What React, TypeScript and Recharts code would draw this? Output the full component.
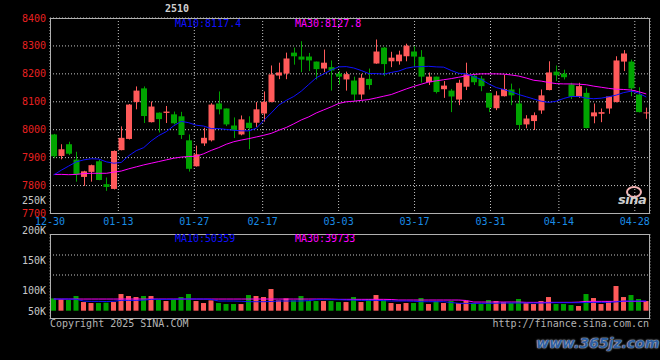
import React from "react";
import { ComposedChart, Bar, Line, XAxis, YAxis, CartesianGrid } from "recharts";

// trading days shown, 12-30 .. 04-30
const dates = [
  "12-30", "12-31", "01-02", "01-03", "01-06", "01-07", "01-08", "01-09", "01-10", "01-13",
  "01-14", "01-15", "01-16", "01-17", "01-20", "01-21", "01-22", "01-23", "01-24", "01-27",
  "02-05", "02-06", "02-07", "02-10", "02-11", "02-12", "02-13", "02-14", "02-17", "02-18",
  "02-19", "02-20", "02-21", "02-24", "02-25", "02-26", "02-27", "02-28", "03-03", "03-04",
  "03-05", "03-06", "03-07", "03-10", "03-11", "03-12", "03-13", "03-14", "03-17", "03-18",
  "03-19", "03-20", "03-21", "03-24", "03-25", "03-26", "03-27", "03-28", "03-31", "04-01",
  "04-02", "04-03", "04-07", "04-08", "04-09", "04-10", "04-11", "04-14", "04-15", "04-16",
  "04-17", "04-18", "04-21", "04-22", "04-23", "04-24", "04-25", "04-28", "04-29", "04-30",
];

const open = [
  7983, 7906, 7948, 7893, 7831, 7849, 7887, 7805, 7788, 7927,
  7967, 8099, 8148, 8027, 8061, 8060, 8055, 8048, 7962, 7869,
  7951, 7962, 8094, 8076, 8015, 7983, 8025, 8025, 8058, 8099,
  8194, 8201, 8276, 8262, 8262, 8244, 8219, 8224, 8201, 8180,
  8176, 8126, 8182, 8237, 8294, 8245, 8245, 8263, 8280, 8261,
  8170, 8190, 8145, 8140, 8108, 8154, 8193, 8183, 8132, 8077,
  8120, 8144, 8094, 8019, 8031, 8069, 8142, 8208, 8201, 8162,
  8119, 8132, 8048, 8057, 8076, 8099, 8244, 8244, 8126, 8061,
];
const high = [
  7985, 7948, 7957, 7921, 7853, 7875, 7893, 7829, 7926, 8012,
  8092, 8155, 8155, 8101, 8062, 8085, 8065, 8064, 7983, 7943,
  8007, 8095, 8137, 8076, 8044, 8051, 8048, 8099, 8137, 8230,
  8240, 8276, 8294, 8317, 8275, 8244, 8287, 8248, 8210, 8208,
  8190, 8200, 8219, 8323, 8296, 8279, 8283, 8308, 8299, 8285,
  8205, 8190, 8174, 8146, 8179, 8240, 8200, 8192, 8132, 8138,
  8196, 8165, 8148, 8052, 8062, 8144, 8245, 8230, 8215, 8168,
  8168, 8150, 8094, 8076, 8120, 8263, 8285, 8251, 8152, 8079,
];
const low = [
  7898, 7894, 7909, 7814, 7799, 7814, 7819, 7781, 7786, 7926,
  7965, 8073, 8024, 8026, 7990, 8024, 8019, 7967, 7850, 7868,
  7942, 7958, 8055, 8013, 7970, 7980, 7930, 8010, 8029, 8098,
  8181, 8181, 8233, 8206, 8210, 8180, 8206, 8140, 8162, 8140,
  8102, 8108, 8144, 8236, 8192, 8224, 8233, 8245, 8226, 8169,
  8160, 8130, 8114, 8063, 8088, 8142, 8160, 8138, 8063, 8070,
  8119, 8088, 8000, 8005, 7999, 8057, 8141, 8174, 8180, 8110,
  8114, 8005, 8023, 8027, 8057, 8098, 8210, 8120, 8062, 8039,
];
const close = [
  7905, 7930, 7914, 7840, 7851, 7873, 7820, 7795, 7924, 7971,
  8090, 8140, 8049, 8083, 8038, 8065, 8023, 7981, 7860, 7912,
  7971, 8090, 8073, 8019, 7998, 8037, 8006, 8073, 8100, 8198,
  8205, 8255, 8263, 8251, 8248, 8217, 8240, 8212, 8190, 8199,
  8126, 8186, 8160, 8280, 8235, 8258, 8269, 8301, 8262, 8190,
  8190, 8135, 8158, 8119, 8168, 8198, 8170, 8156, 8079, 8123,
  8146, 8123, 8017, 8040, 8052, 8123, 8205, 8195, 8188, 8118,
  8156, 8006, 8062, 8063, 8119, 8248, 8273, 8148, 8063, 8062,
];

// moving averages as drawn on the chart
const ma10 = [
  7838, 7855, 7870, 7885, 7892, 7896, 7895, 7885, 7880, 7883,
  7907, 7925, 7936, 7960, 7979, 7993, 8014, 8030, 8025, 8016,
  8013, 8004, 8004, 8001, 7998, 7996, 7996, 8005, 8033, 8060,
  8088, 8105, 8119, 8138, 8162, 8186, 8200, 8214, 8225, 8226,
  8221, 8212, 8201, 8201, 8199, 8205, 8210, 8220, 8225, 8226,
  8227, 8225, 8224, 8212, 8202, 8200, 8190, 8180, 8164, 8151,
  8144, 8136, 8126, 8118, 8110, 8102, 8098, 8102, 8112, 8119,
  8119, 8113, 8111, 8113, 8118, 8124, 8133, 8138, 8131, 8117,
];
const ma30 = [
  7840, 7840, 7839, 7840, 7843, 7844, 7844, 7844, 7848, 7852,
  7860, 7867, 7874, 7880, 7886, 7892, 7898, 7902, 7904, 7905,
  7914, 7926, 7936, 7948, 7957, 7963, 7968, 7974, 7980, 7987,
  7998, 8008, 8021, 8035, 8046, 8060, 8071, 8082, 8094, 8100,
  8102, 8105, 8108, 8114, 8120, 8126, 8136, 8146, 8155, 8163,
  8171, 8175, 8179, 8183, 8188, 8193, 8198, 8200, 8200, 8200,
  8199, 8196, 8192, 8185, 8177, 8174, 8169, 8165, 8164, 8164,
  8163, 8161, 8156, 8152, 8148, 8145, 8144, 8142, 8136, 8128,
];

const volume = [
  49600, 45600, 42900, 59000, 34800, 30800, 30800, 32200, 34800, 67000,
  59000, 54900, 59000, 59000, 45600, 38900, 45600, 54900, 67000, 38900,
  30800, 41500, 30800, 26800, 26800, 26800, 63000, 59000, 54900, 87100,
  41500, 49600, 41500, 59000, 38900, 38900, 38900, 38900, 34800, 34800,
  54900, 34800, 46900, 63000, 42900, 30800, 26800, 30800, 30800, 50900,
  26800, 38900, 30800, 38900, 30800, 38900, 30800, 26800, 42900, 38900,
  34800, 30800, 46900, 30800, 26800, 38900, 54900, 26800, 26800, 22800,
  18800, 67000, 50900, 26800, 38900, 99200, 54900, 63000, 46900, 38900,
];
const volMa10 = [
  46900, 46900, 46500, 46000, 38500, 37500, 37500, 37000, 38000, 41500,
  41500, 41500, 42500, 45600, 45600, 45600, 46000, 46900, 46900, 46900,
  46900, 45000, 38900, 38900, 38900, 38000, 36200, 36200, 36200, 37000,
  38900, 38900, 38900, 38900, 40500, 44200, 44200, 44200, 44200, 43000,
  42500, 41500, 41500, 41500, 40500, 38900, 38900, 38900, 38000, 36200,
  36200, 36200, 36200, 33000, 29500, 29500, 29500, 29500, 29500, 30000,
  30800, 30800, 30800, 30800, 30800, 30800, 31500, 32200, 32200, 32200,
  32200, 32800, 33500, 33500, 33500, 35500, 38900, 38900, 38900, 38900,
];
const volMa30 = [
  46900, 46900, 46900, 46900, 46900, 46900, 46900, 46900, 46900, 46900,
  46900, 46900, 46900, 46900, 46900, 46900, 46900, 46900, 46900, 46900,
  46900, 46900, 46900, 46900, 46900, 46900, 46900, 46900, 46900, 46900,
  46900, 46900, 46900, 46900, 46900, 46900, 46900, 46500, 45600, 45600,
  45600, 45600, 45600, 45600, 45600, 45000, 42900, 42900, 42900, 42900,
  42900, 42900, 42900, 42900, 42900, 41000, 34800, 34800, 34800, 34800,
  34800, 34800, 34800, 33500, 33500, 33500, 33500, 33500, 33500, 33500,
  34500, 37500, 37500, 37500, 37500, 37500, 37500, 37500, 37500, 37500,
];

const dateTicks = ["12-30", "01-13", "01-27", "02-17", "03-03", "03-17", "03-31", "04-14", "04-28"];
const priceTicks = [7700, 7800, 7900, 8000, 8100, 8200, 8300, 8400];
const volTicks = [250000, 200000, 150000, 100000, 50000];

const symbol = "2510";
const priceMaText = ["MA10:8117.4", "MA30:8127.8"];
const volMaText = ["MA10:50359", "MA30:39733"];

const RED = "#ff5a5a";
const GREEN = "#00a400";
const BLUE = "#1010ff";
const MAGENTA = "#ff00ff";
const GRID = "#c4c4c4";
const MONO = "'DejaVu Sans Mono', monospace";

const rows = dates.map((d, i) => ({
  date: d,
  idx: i,
  range: [low[i], high[i]],
  open: open[i],
  close: close[i],
  ma10: ma10[i],
  ma30: ma30[i],
  vol: volume[i],
  vma10: volMa10[i],
  vma30: volMa30[i],
}));

const tickIdx = dateTicks.map((t) => dates.indexOf(t));

function Candle(props: any) {
  const { x, y, width, height, payload } = props;
  const top = Math.min(y, y + height);
  const h = Math.abs(height);
  const [lo, hi] = payload.range;
  const k = hi > lo ? h / (hi - lo) : 0;
  const bTop = top + (hi - Math.max(payload.open, payload.close)) * k;
  const bBot = top + (hi - Math.min(payload.open, payload.close)) * k;
  const color = payload.close >= payload.open ? RED : GREEN;
  const cx = Math.floor(x + width / 2) + 0.5;
  return (
    <g>
      <line x1={cx} x2={cx} y1={top} y2={top + h} stroke={color} strokeWidth={1} />
      <rect x={x} y={bTop} width={width} height={Math.max(1, bBot - bTop)} fill={color} />
    </g>
  );
}

function VolBar(props: any) {
  const { x, y, width, height, payload } = props;
  const color = payload.close >= payload.open ? RED : GREEN;
  return <rect x={x} y={Math.min(y, y + height)} width={width} height={Math.abs(height)} fill={color} />;
}

// the bottom volume label sits just above the panel edge
function VolTick(props: any) {
  const { x, y, payload } = props;
  return (
    <text x={x} y={Math.min(y, 311)} dy={3.5} textAnchor="end" fill="#c8c8c8" fontSize={10} fontFamily={MONO}>
      {payload.value / 1000 + "K"}
    </text>
  );
}

const txt = (extra: React.CSSProperties): React.CSSProperties => ({
  position: "absolute",
  fontFamily: MONO,
  fontSize: 10,
  lineHeight: "10px",
  whiteSpace: "nowrap",
  ...extra,
});

export default function App() {
  return (
    <div style={{ position: "absolute", left: 0, top: 0, width: 660, height: 360, background: "#000", overflow: "hidden" }}>
      <div style={{ position: "absolute", left: 0, top: 0 }}>
        <ComposedChart width={660} height={240} data={rows} margin={{ top: 18, right: 10, left: 0, bottom: 6.5 }}>
          <XAxis xAxisId="cat" dataKey="date" hide height={0} />
          <XAxis
            xAxisId="dates"
            type="number"
            dataKey="idx"
            domain={[0, 79]}
            ticks={tickIdx}
            interval={0}
            tickFormatter={(v: number) => dates[v]}
            height={20}
            axisLine={false}
            tickLine={false}
            tickSize={0}
            tickMargin={4}
            tick={{ fill: "#1a8ce6", fontSize: 10, fontFamily: MONO }}
          />
          <YAxis
            yAxisId="price"
            domain={[7700, 8400]}
            ticks={priceTicks}
            interval={0}
            allowDataOverflow
            width={50}
            axisLine={false}
            tickLine={false}
            tickSize={0}
            tickMargin={4}
            tick={{ fill: "#e82020", fontSize: 10, fontFamily: MONO }}
          />
          <CartesianGrid xAxisId="dates" yAxisId="price" stroke={GRID} strokeDasharray="1 2" />
          <Bar xAxisId="cat" yAxisId="price" dataKey="range" barSize={6} shape={Candle} isAnimationActive={false} />
          <Line xAxisId="cat" yAxisId="price" dataKey="ma30" stroke={MAGENTA} strokeWidth={1} dot={false} isAnimationActive={false} />
          <Line xAxisId="cat" yAxisId="price" dataKey="ma10" stroke={BLUE} strokeWidth={1} dot={false} isAnimationActive={false} />
        </ComposedChart>
      </div>

      <div style={{ position: "absolute", left: 0, top: 0 }}>
        <ComposedChart width={660} height={360} data={rows} margin={{ top: 234.3, right: 10, left: 0, bottom: 39.3 }}>
          <XAxis xAxisId="cat" dataKey="date" hide height={0} />
          <XAxis
            xAxisId="dates"
            type="number"
            dataKey="idx"
            domain={[0, 79]}
            ticks={tickIdx}
            interval={0}
            height={0}
            tick={false}
            axisLine={false}
            tickLine={false}
          />
          <YAxis
            yAxisId="lbl"
            type="number"
            domain={[50000, 193165]}
            allowDataOverflow
            ticks={volTicks}
            interval={0}
            width={50}
            axisLine={false}
            tickLine={false}
            tickSize={0}
            tickMargin={4}
            tick={VolTick}
          />
          <YAxis yAxisId="vol" hide domain={[-40200, 307100]} allowDataOverflow />
          <CartesianGrid xAxisId="dates" yAxisId="vol" stroke={GRID} strokeDasharray="1 2" horizontalPoints={[255, 275]} />
          <Bar xAxisId="cat" yAxisId="vol" dataKey="vol" barSize={5} shape={VolBar} isAnimationActive={false} />
          <Line xAxisId="cat" yAxisId="vol" dataKey="vma30" stroke={MAGENTA} strokeWidth={1} dot={false} isAnimationActive={false} />
          <Line xAxisId="cat" yAxisId="vol" dataKey="vma10" stroke={BLUE} strokeWidth={1} dot={false} isAnimationActive={false} />
        </ComposedChart>
      </div>

      {/* panel frames */}
      <div style={{ position: "absolute", left: 50, top: 18, width: 600, height: 196, border: "1px solid #b0b0b0", boxSizing: "border-box" }} />
      <div style={{ position: "absolute", left: 50, top: 234, width: 600, height: 85, border: "1px solid #b0b0b0", boxSizing: "border-box" }} />

      <div style={txt({ left: 165, top: 4, color: "#d0d0d0", fontWeight: "bold" })}>{symbol}</div>
      <div style={txt({ left: 175, top: 19, color: BLUE })}>{priceMaText[0]}</div>
      <div style={txt({ left: 295, top: 19, color: MAGENTA })}>{priceMaText[1]}</div>
      <div style={txt({ left: 175, top: 234, color: BLUE })}>{volMaText[0]}</div>
      <div style={txt({ left: 295, top: 234, color: MAGENTA })}>{volMaText[1]}</div>
      <div style={txt({ left: 50, top: 319, color: "#b4b4b4" })}>Copyright 2025 SINA.COM</div>
      <div style={txt({ right: 11, top: 319, color: "#b4b4b4" })}>http://finance.sina.com.cn</div>

      {/* sina logo */}
      <div style={{ position: "absolute", left: 626, top: 186, width: 12, height: 8, border: "2px solid #f3b3b3", borderRadius: "50%" }} />
      <div style={{ position: "absolute", left: 618, top: 193, fontFamily: "'DejaVu Sans', sans-serif", fontStyle: "italic", fontWeight: "bold", fontSize: 13, lineHeight: "13px", color: "#cfcfcf", letterSpacing: -0.5 }}>
        sina
      </div>

      {/* watermark */}
      <div style={{ position: "absolute", left: 536, top: 336, fontFamily: "'DejaVu Sans', sans-serif", fontStyle: "italic", fontWeight: "bold", fontSize: 14, lineHeight: "14px", color: "#2f5e9e", textShadow: "0 0 2px #d6deea, 0 0 1px #d6deea" }}>
        www.365jz.com
      </div>
    </div>
  );
}
